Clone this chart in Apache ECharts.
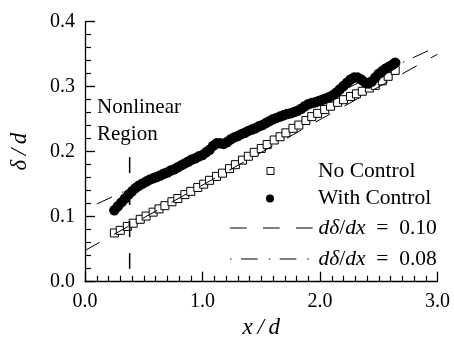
<!DOCTYPE html>
<html>
<head>
<meta charset="utf-8">
<script src="https://cdn.jsdelivr.net/npm/echarts@6/dist/echarts.min.js"></script>
<style>
  html, body { margin: 0; padding: 0; background: #fff; }
  #chart { width: 454px; height: 346px; }
</style>
</head>
<body>
<div id="chart"></div>
<script>
// boundary layer thickness delta/d vs x/d

const noCtrlX = [0.25, 0.30, 0.36, 0.41, 0.47, 0.52, 0.58, 0.63, 0.68, 0.74, 0.79, 0.85, 0.90, 0.96,
  1.01, 1.06, 1.12, 1.17, 1.23, 1.28, 1.34, 1.39, 1.44, 1.50, 1.55, 1.61, 1.66, 1.71, 1.77, 1.82,
  1.88, 1.93, 1.98, 2.04, 2.09, 2.15, 2.20, 2.26, 2.31, 2.36, 2.42, 2.47, 2.53, 2.58, 2.64];
const noCtrlY = [0.075, 0.079, 0.085, 0.090, 0.096, 0.101, 0.107, 0.112, 0.117, 0.123, 0.128, 0.134, 0.139, 0.145,
  0.150, 0.156, 0.162, 0.167, 0.174, 0.180, 0.187, 0.193, 0.199, 0.205, 0.211, 0.218, 0.223, 0.229, 0.236, 0.241,
  0.248, 0.254, 0.259, 0.265, 0.270, 0.276, 0.280, 0.285, 0.289, 0.293, 0.298, 0.302, 0.309, 0.316, 0.325];

const ctrlX = [0.25, 0.28, 0.31, 0.34, 0.37, 0.40, 0.43, 0.46, 0.49, 0.52, 0.55, 0.58, 0.61, 0.64, 0.67, 0.70,
  0.73, 0.76, 0.79, 0.82, 0.85, 0.88, 0.91, 0.94, 0.97, 1.00, 1.03, 1.06, 1.09, 1.12, 1.15, 1.18, 1.21, 1.24,
  1.27, 1.30, 1.33, 1.36, 1.39, 1.42, 1.45, 1.48, 1.51, 1.54, 1.57, 1.60, 1.63, 1.66, 1.69, 1.72, 1.75, 1.78,
  1.81, 1.84, 1.87, 1.90, 1.93, 1.96, 1.99, 2.02, 2.05, 2.08, 2.11, 2.14, 2.17, 2.20, 2.23, 2.26, 2.29, 2.32,
  2.35, 2.38, 2.41, 2.44, 2.47, 2.50, 2.53, 2.56, 2.59, 2.62, 2.64];
const ctrlY = [0.110, 0.116, 0.122, 0.128, 0.134, 0.139, 0.144, 0.148, 0.151, 0.154, 0.157, 0.159, 0.161, 0.1635, 0.166, 0.168,
  0.171, 0.173, 0.176, 0.179, 0.182, 0.185, 0.188, 0.190, 0.193, 0.195, 0.199, 0.203, 0.209, 0.213, 0.213, 0.212, 0.215, 0.219,
  0.222, 0.224, 0.227, 0.229, 0.232, 0.234, 0.236, 0.239, 0.241, 0.244, 0.247, 0.250, 0.252, 0.254, 0.256, 0.258, 0.259, 0.261,
  0.263, 0.266, 0.270, 0.273, 0.275, 0.276, 0.278, 0.280, 0.282, 0.284, 0.287, 0.291, 0.296, 0.301, 0.306, 0.311, 0.314, 0.314,
  0.311, 0.307, 0.305, 0.308, 0.314, 0.320, 0.324, 0.328, 0.331, 0.334, 0.337];

// fitted slopes
const fit10X = [0.0, 3.0];
const fit10Y = [0.048, 0.350];
const fit08X = [0.10, 3.0];
const fit08Y = [0.1195, 0.362];

// end of the nonlinear region
const regionX = [0.38, 0.38];
const regionY = [0.192, 0.02];

const seriesNames = ['No Control', 'With Control', 'dδ/dx = 0.10', 'dδ/dx = 0.08'];

const zip = (xs, ys) => xs.map((x, i) => [x, ys[i]]);

const serif = '"Liberation Serif", "Times New Roman", serif';
const DASH = [16.7, 16.3];
const DASHDOT = [16.7, 11, 1.5, 9.5];

const chart = echarts.init(document.getElementById('chart'), null, { renderer: 'canvas' });

function axisBase() {
  return {
    type: 'value',
    axisLine: { show: true, onZero: false, lineStyle: { color: '#000', width: 1.3 } },
    axisTick: { show: true, inside: true, length: 10, lineStyle: { color: '#000', width: 1.3 } },
    minorTick: { show: true, length: 6, lineStyle: { color: '#000', width: 1.2 } },
    axisLabel: { color: '#000', fontFamily: serif, fontSize: 20, margin: 10, formatter: v => (+v).toFixed(1) },
    splitLine: { show: false },
    minorSplitLine: { show: false },
    nameLocation: 'middle',
    nameTextStyle: { color: '#000', fontFamily: serif, fontStyle: 'italic', fontSize: 23 },
  };
}

const xAxis = Object.assign(axisBase(), { min: 0, max: 3, interval: 1, name: 'x\u2009/\u2009d', nameGap: 31 });
xAxis.minorTick.splitNumber = 10;
const yAxis = Object.assign(axisBase(), { min: 0, max: 0.4, interval: 0.1, name: 'δ\u2009/\u2009d', nameGap: 54 });
yAxis.minorTick.splitNumber = 5;

const FS = 21.5;
const legendText = {
  color: '#000', fontFamily: serif, fontSize: FS,
  rich: {
    i: { fontFamily: serif, fontStyle: 'italic', fontSize: FS, color: '#000' },
    n: { fontFamily: serif, fontSize: FS, color: '#000' },
    p: { fontFamily: serif, fontSize: FS, color: '#000', padding: [0, 0, 0, 39] },
  },
};
const mathLabel = name => {
  const val = name.split('=')[1].trim();
  return `{i|dδ}{n|/}{i|dx}{n|\u2002=\u2002${val}}`;
};
const padLabel = name => `{p|${name}}`;

function legendRow(name, top, extra) {
  return Object.assign({
    data: [name],
    orient: 'vertical',
    left: 229.5, top,
    padding: 0,
    itemWidth: 83.5, itemHeight: 7,
    selectedMode: false,
    textStyle: legendText,
    lineStyle: { width: 1 },
    itemStyle: { color: 'rgba(0,0,0,0)', borderWidth: 0, opacity: 0 },
    formatter: mathLabel,
  }, extra || {});
}

chart.setOption({
  backgroundColor: '#fff',
  animation: false,
  grid: { left: 85, right: 16.5, top: 21.7, bottom: 64.3 },
  xAxis,
  yAxis,
  legend: [
    legendRow(seriesNames[0], 160, {
      left: 266.5, itemWidth: 7, itemHeight: 7, icon: 'rect', formatter: padLabel,
      itemStyle: { color: '#fff', borderColor: '#000', borderWidth: 1, opacity: 1 },
    }),
    legendRow(seriesNames[1], 187.5, {
      left: 266, itemWidth: 8, itemHeight: 8, icon: 'circle', formatter: name => `{p|${name}}`,
      textStyle: Object.assign({}, legendText, { rich: Object.assign({}, legendText.rich, {
        p: { fontFamily: serif, fontSize: FS, color: '#000', padding: [0, 0, 0, 39] } }) }),
      itemStyle: { color: '#000', borderWidth: 0, opacity: 1 },
    }),
    legendRow(seriesNames[2], 217),
    legendRow(seriesNames[3], 248, { lineStyle: { width: 1, dashOffset: 27.7 } }),
  ],
  graphic: [{
    type: 'text', left: 97, top: 94, silent: true,
    style: { text: 'Nonlinear\nRegion', fill: '#000', font: `21px ${serif}`, lineHeight: 27 },
  }],
  series: [
    {
      name: seriesNames[2], type: 'line', data: zip(fit10X, fit10Y),
      symbol: 'none', silent: true,
      lineStyle: { color: '#000', width: 1, type: DASH },
    },
    {
      name: seriesNames[3], type: 'line', data: zip(fit08X, fit08Y),
      symbol: 'none', silent: true,
      lineStyle: { color: '#000', width: 1, type: DASHDOT },
    },
    {
      name: 'Nonlinear Region', type: 'line', data: zip(regionX, regionY),
      symbol: 'none', silent: true,
      lineStyle: { color: '#000', width: 1.5, type: [16, 16] },
    },
    {
      name: seriesNames[0], type: 'scatter', data: zip(noCtrlX, noCtrlY),
      symbol: 'rect', symbolSize: 8, silent: true,
      itemStyle: { color: '#fff', borderColor: '#000', borderWidth: 1, opacity: 1 },
    },
    {
      name: seriesNames[1], type: 'scatter', data: zip(ctrlX, ctrlY),
      symbol: 'circle', symbolSize: 10.5, silent: true,
      itemStyle: { color: '#000', opacity: 1 },
    },
  ],
});
</script>
</body>
</html>
